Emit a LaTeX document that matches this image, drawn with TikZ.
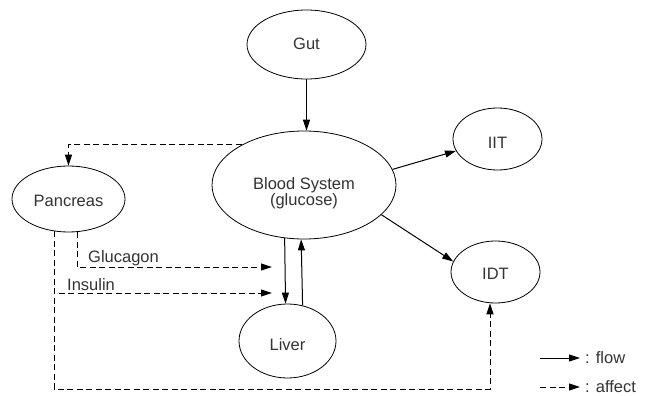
\documentclass[tikz,border=0pt]{standalone}
\usepackage{fontspec}
\setmainfont{Liberation Sans}
\usetikzlibrary{shapes.geometric,arrows.meta,calc}
\begin{document}
\begin{tikzpicture}[x=1pt,y=-1pt,
  font=\fontsize{16.5}{16.5}\selectfont,
  every node/.style={text=black!80},
  ell/.style={ellipse,draw=black,line width=0.8pt,inner sep=0pt},
  inlbl/.style={align=center,inner sep=0pt},
  flow/.style={line width=1pt,-{Triangle[length=11pt,width=7pt]}},
  affect/.style={flow,dash pattern=on 6pt off 3.5pt},
  txt/.style={inner sep=0pt}]
\useasboundingbox (0,0) rectangle (648,396);
% ellipses
\node[ell,minimum width=119pt,minimum height=69pt,label={[inlbl,yshift=1pt]center:Gut}] (gut) at (306.5,44.5) {};
\node[ell,minimum width=184pt,minimum height=108pt,label={[inlbl,yshift=-8pt]center:Blood System\\(glucose)}] (blood) at (304,185) {};
\node[ell,minimum width=89pt,minimum height=62pt,label={[inlbl,yshift=-4pt]center:IIT}] (iit) at (497.5,139) {};
\node[ell,minimum width=89pt,minimum height=62pt,label={[inlbl,yshift=-2pt]center:IDT}] (idt) at (495.5,272) {};
\node[ell,minimum width=113pt,minimum height=66pt,label={[inlbl,yshift=-2pt]center:Pancreas}] (pancreas) at (68.5,199) {};
\node[ell,minimum width=97pt,minimum height=74pt,label={[inlbl,yshift=-4pt]center:Liver}] (liver) at (287.5,341) {};
% flow arrows
\draw[flow] (gut.south) -- (gut.south |- blood.north);
\draw[flow] (blood.10.9) -- (iit.196.6);
\draw[flow] (blood.339.8) -- (idt.166.8);
\draw[flow] (blood.250.2) -- (liver.93.9);
\draw[flow] (liver.67.7) -- (blood.267.9);
% affect arrows
\draw[affect] (blood.147.2) -| (pancreas.north);
\coordinate (gs) at ($(pancreas.south)+(8.5,0)$);
\coordinate (is) at ($(pancreas.south)+(-14.5,-1)$);
\coordinate (gtip) at (272,267);
\coordinate (itip) at (272,293);
\coordinate (bottom) at (54,389);
\coordinate (idtin) at ($(idt.south)+(-5.5,0)$);
\draw[affect] (gs) |- (gtip);
\draw[affect] (is) |- (itip);
\draw[affect] (is) -- (bottom) -| (idtin);
\node[txt,anchor=base west] (glucagon) at (88,262) {Glucagon};
\node[txt,anchor=base west] (insulin) at (67,290) {Insulin};
% legend
\coordinate (lf1) at (540,358);
\coordinate (lf2) at (580,358);
\coordinate (la1) at (540,387);
\coordinate (la2) at (580,387);
\draw[flow] (lf1) -- (lf2);
\draw[affect] (la1) -- (la2);
\node[txt,anchor=west] (flowtxt) at (585,358) {: flow};
\node[txt,anchor=west] (affecttxt) at (585,387) {: affect};
\end{tikzpicture}
\end{document}
